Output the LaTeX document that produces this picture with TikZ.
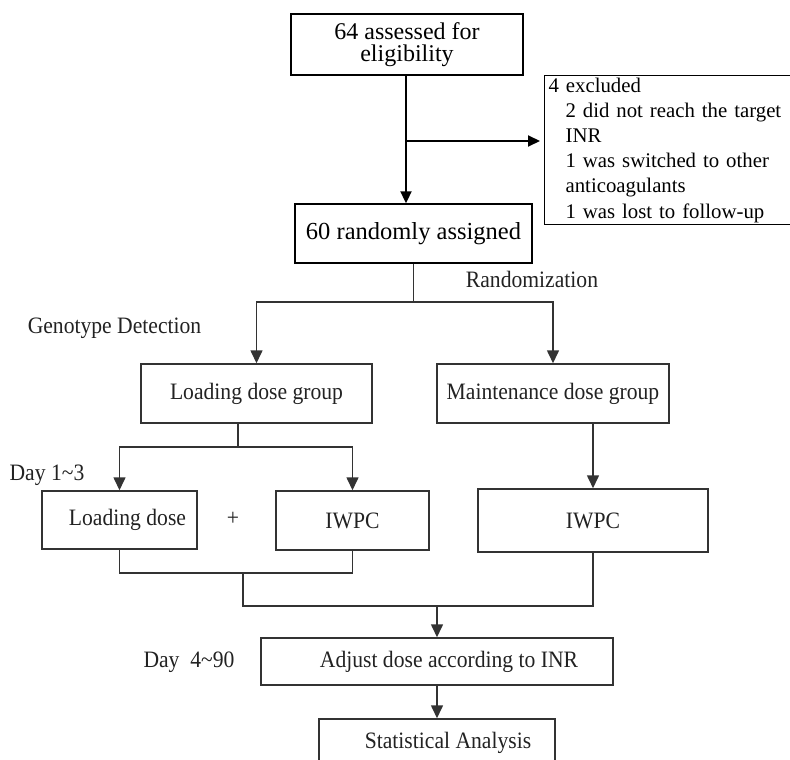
\documentclass[tikz,border=0pt]{standalone}
\usepackage{fontspec}
\setmainfont{Liberation Serif}
\newfontfamily\condfont[FakeStretch=0.92]{Liberation Serif}
\usetikzlibrary{arrows.meta}

\definecolor{linegray}{HTML}{333333}
\definecolor{textgray}{HTML}{222222}

\begin{document}
\begin{tikzpicture}[x=1pt,y=-1pt,
  topbox/.style={draw=black,line width=1.4pt,inner sep=0pt,align=center},
  box/.style={draw=linegray,line width=1.5pt,inner sep=0pt,text=textgray,
    font=\condfont\fontsize{23.5}{27}\selectfont},
  lbl/.style={inner sep=0pt,text=textgray,font=\condfont\fontsize{23.5}{27}\selectfont},
  toparrow/.style={draw=black,line width=2pt,-{Triangle[length=12pt,width=11pt]}},
  arr/.style={draw=linegray,line width=1.6pt,-{Triangle[length=13pt,width=12pt]}},
  link/.style={draw=linegray,line width=1.6pt}]

\clip (0,0) rectangle (790,760);

% enrolment
\node[topbox,minimum width=232pt,minimum height=61pt,
  font=\fontsize{24}{22}\selectfont] (assess) at (407,44.5)
  {64 assessed for\\eligibility};
\node[topbox,minimum width=237pt,minimum height=59pt,
  font=\fontsize{24.5}{26}\selectfont] (rand) at (413.5,233.5)
  {60 randomly assigned};
\node[draw=black,line width=1.2pt,anchor=north west,inner xsep=4pt,inner ysep=2pt,
  text width=240pt,align=left,font=\fontsize{20.8}{25.2}\selectfont] (excl) at (544,75)
  {4 excluded\\
   \hspace*{17pt}2 did not reach the target\\
   \hspace*{17pt}INR\\
   \hspace*{17pt}1 was switched to other\\
   \hspace*{17pt}anticoagulants\\
   \hspace*{17pt}1 was lost to follow-up};

% groups
\node[box,minimum width=231pt,minimum height=59pt] (load) at (256.5,393.5) {Loading dose group};
\node[box,minimum width=232pt,minimum height=59pt] (maint) at (553,393.5) {Maintenance dose group};

% day 1~3
\node[box,minimum width=155pt,minimum height=58pt] (ldose) at (119.5,520) {\hspace*{16pt}Loading dose};
\node[box,minimum width=153pt,minimum height=59pt] (iwpcA) at (352.5,520.5) {IWPC};
\node[box,minimum width=230pt,minimum height=63pt] (iwpcB) at (593,520.5) {IWPC};

% day 4~90
\node[box,minimum width=352pt,minimum height=47pt] (adjust) at (437,661.5) {\hspace*{24pt}Adjust dose according to INR};
\node[box,minimum width=236pt,minimum height=48pt] (stat) at (437,743) {\hspace*{22pt}Statistical Analysis};

% side labels
\node[lbl] (randlbl) at (532,279) {Randomization};
\node[lbl] (geno) at (114.5,328) {Genotype Detection};
\node[lbl] (day1) at (47,475) {Day 1\textasciitilde3};
\node[lbl] (plus) at (233,519) {+};
\node[lbl] (day4) at (189,662) {Day\ \ 4\textasciitilde90};

% junctions
\coordinate (jx) at (406,141);
\coordinate (split) at (413.5,302);
\coordinate (split2) at (238,447);
\coordinate (join1) at (243,573);
\coordinate (join2) at (437,606);

\draw[toparrow] (assess.south -| jx) -- (jx |- rand.north);
\draw[toparrow,shorten >=4pt] (jx) -- (jx -| excl.west);

\draw[link] (rand.south) -- (split);
\draw[arr] (split) -| (load.north);
\draw[arr] (split) -| (maint.north);

\draw[link] (split2 |- load.south) -- (split2);
\draw[arr] (split2) -| (ldose.north);
\draw[arr] (split2) -| (iwpcA.north);
\draw[arr] (iwpcB.north |- maint.south) -- (iwpcB.north);

\draw[link] (ldose.south) |- (join1) -| (iwpcA.south);
\draw[link] (join1) |- (join2) -| (iwpcB.south);
\draw[arr] (join2) -- (adjust.north);
\draw[arr] (adjust) -- (stat);

\end{tikzpicture}
\end{document}
